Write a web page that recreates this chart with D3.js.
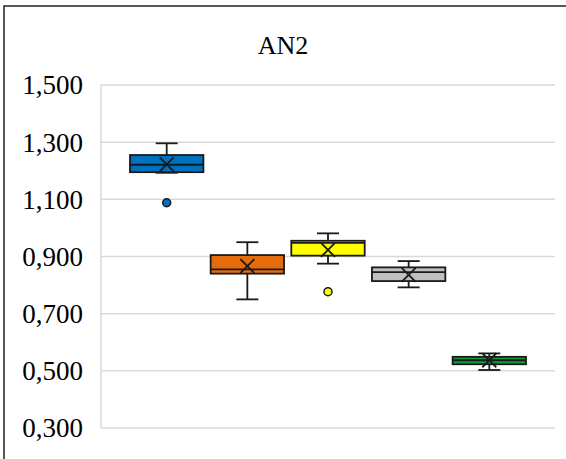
<!DOCTYPE html>
<html><head><meta charset="utf-8">
<script src="https://cdn.jsdelivr.net/npm/d3@7"></script>
<style>body{margin:0;background:#fff}svg{display:block}
text{font-family:"Liberation Serif","Tinos","Times New Roman",Times,"DejaVu Serif","Noto Serif",serif;}</style>
</head><body>
<script>
const title = "AN2";
const series = ["S1","S2","S3","S4","S5"];
const colors = ["#0070C0","#E46C0A","#FFFF00","#BFBFBF","#129A3E"];
const whiskerLow  = [1.193, 0.750, 0.875, 0.792, 0.503];
const q1          = [1.195, 0.840, 0.903, 0.814, 0.523];
const medians     = [1.221, 0.855, 0.948, 0.845, 0.537];
const q3          = [1.255, 0.905, 0.955, 0.862, 0.549];
const whiskerHigh = [1.296, 0.950, 0.981, 0.884, 0.561];
const means       = [1.222, 0.866, 0.923, 0.836, 0.537];
const outliers    = [[1.088], [], [0.777], [], []];
const yTicks = [0.3, 0.5, 0.7, 0.9, 1.1, 1.3, 1.5];

const W = 566, H = 459;
const svg = d3.select("body").append("svg").attr("width", W).attr("height", H);
svg.append("rect").attr("x", 4).attr("y", 6).attr("width", W + 10).attr("height", H + 10)
  .attr("fill", "#fff").attr("stroke", "#222").attr("stroke-width", 1.5);

const plot = {left: 101, right: 555, top: 85, bottom: 428};
const y = d3.scaleLinear().domain([0.3, 1.5]).range([plot.bottom, plot.top]);
const x = d3.scaleBand().domain(series).range([plot.left + 29, plot.right - 29]).paddingInner(0.09);

svg.append("g").selectAll("line").data(yTicks).join("line")
  .attr("x1", plot.left).attr("x2", plot.right)
  .attr("y1", d => y(d)).attr("y2", d => y(d))
  .attr("stroke", "#d9d9d9").attr("stroke-width", 1.5);
svg.append("line").attr("x1", plot.left).attr("x2", plot.left)
  .attr("y1", plot.top).attr("y2", plot.bottom).attr("stroke", "#d9d9d9").attr("stroke-width", 1.5);

const fmt = d => d3.format(".3f")(d).replace(".", ",");
svg.append("g").selectAll("text").data(yTicks).join("text")
  .attr("x", 83).attr("y", d => y(d)).attr("dy", "0.35em")
  .attr("text-anchor", "end")
  .attr("font-size", 27).attr("fill", "#000")
  .text(d => fmt(d));

svg.append("text").attr("x", 283).attr("y", 54).attr("text-anchor", "middle")
  .attr("font-size", 26).attr("fill", "#000").text(title);

const g = svg.append("g");
series.forEach((s, i) => {
  const cx = x(s) + x.bandwidth() / 2;
  const bw = x.bandwidth();
  const capW = 22;
  const stroke = "#1a1a1a";
  g.append("line").attr("x1", cx).attr("x2", cx).attr("y1", y(whiskerHigh[i])).attr("y2", y(q3[i]))
    .attr("stroke", stroke).attr("stroke-width", 1.8);
  g.append("line").attr("x1", cx).attr("x2", cx).attr("y1", y(q1[i])).attr("y2", y(whiskerLow[i]))
    .attr("stroke", stroke).attr("stroke-width", 1.8);
  [whiskerHigh[i], whiskerLow[i]].forEach(v => {
    g.append("line").attr("x1", cx - capW/2).attr("x2", cx + capW/2).attr("y1", y(v)).attr("y2", y(v))
      .attr("stroke", stroke).attr("stroke-width", 1.8);
  });
  g.append("rect").attr("x", x(s)).attr("width", bw)
    .attr("y", y(q3[i])).attr("height", y(q1[i]) - y(q3[i]))
    .attr("fill", colors[i]).attr("stroke", stroke).attr("stroke-width", 1.8);
  g.append("line").attr("x1", x(s)).attr("x2", x(s) + bw).attr("y1", y(medians[i])).attr("y2", y(medians[i]))
    .attr("stroke", stroke).attr("stroke-width", 1.8);
  const my = y(means[i]), r = 7;
  g.append("path").attr("d", `M${cx-r},${my-r}L${cx+r},${my+r}M${cx-r},${my+r}L${cx+r},${my-r}`)
    .attr("stroke", stroke).attr("stroke-width", 1.8).attr("fill", "none");
  outliers[i].forEach(v => {
    g.append("circle").attr("cx", cx).attr("cy", y(v)).attr("r", 4)
      .attr("fill", colors[i]).attr("stroke", stroke).attr("stroke-width", 1.5);
  });
});
</script>
</body></html>
